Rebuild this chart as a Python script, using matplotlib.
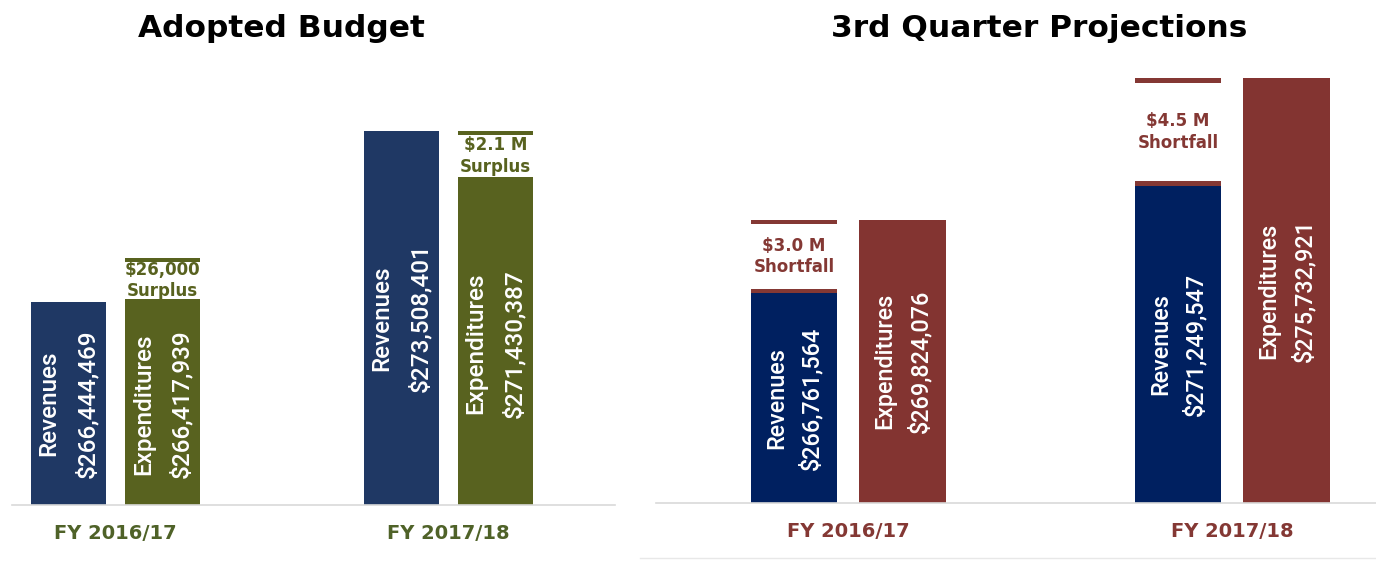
import numpy as np
import matplotlib.pyplot as plt
from matplotlib.lines import Line2D

# values in dollars
years = ["FY 2016/17", "FY 2017/18"]

adopted_rev = [266444469, 273508401]
adopted_exp = [266417939, 271430387]
adopted_gap = ["$26,000\nSurplus", "$2.1 M\nSurplus"]

q3_rev = [266761564, 271249547]
q3_exp = [269824076, 275732921]
q3_gap = ["$3.0 M\nShortfall", "$4.5 M\nShortfall"]

W = 0.226       # bar width
OFF = 0.1415    # bar offset from group centre
TH = 0.18       # thickness of the gap brackets (millions)
MIN_GAP = 1.85  # smallest drawn bracket height (millions)

fig = plt.figure(figsize=(13.76, 5.81), dpi=100)


def money(v):
    return "${:,}".format(v)


def panel(rect, xlim, ylim, rev, exp, gaps, c_rev, c_exp, c_mark, c_lab,
          fs, ls, surplus):
    ax = fig.add_axes(rect)
    x = np.arange(len(years))
    rev_m = np.array(rev) / 1e6
    exp_m = np.array(exp) / 1e6
    ax.bar(x - OFF, rev_m, W, color=c_rev)
    ax.bar(x + OFF, exp_m, W, color=c_exp)

    for i in range(len(years)):
        ax.text(x[i] - OFF, (ylim[0] + rev_m[i]) / 2, "Revenues\n" + money(rev[i]),
                rotation=90, ha="center", va="center", color="white",
                fontsize=fs, linespacing=ls, family="Roboto", fontweight="medium")
        ax.text(x[i] + OFF, (ylim[0] + exp_m[i]) / 2, "Expenditures\n" + money(exp[i]),
                rotation=90, ha="center", va="center", color="white",
                fontsize=fs, linespacing=ls, family="Roboto", fontweight="medium")

        # bracket showing the surplus / shortfall
        if surplus:
            xm = x[i] + OFF
            lo = exp_m[i]
            hi = max(rev_m[i], lo + MIN_GAP)
        else:
            xm = x[i] - OFF
            lo = rev_m[i]
            hi = exp_m[i]
        ax.bar(xm, TH, W, bottom=hi - TH, color=c_mark)
        ax.bar(xm, TH, W, bottom=lo, color=c_mark)
        ax.text(xm, (hi + lo) / 2, gaps[i], ha="center", va="center",
                color=c_mark, fontsize=12, fontweight="bold", linespacing=1.25)

    ax.set_xlim(*xlim)
    ax.set_ylim(*ylim)
    ax.set_yticks([])
    ax.set_xticks(x, years)
    ax.tick_params(axis="x", length=0, pad=14, labelsize=14, labelcolor=c_lab)
    for lbl in ax.get_xticklabels():
        lbl.set_fontweight("bold")
    for s in ["left", "right", "top"]:
        ax.spines[s].set_visible(False)
    ax.spines["bottom"].set_color("#D9D9D9")
    ax.spines["bottom"].set_linewidth(1.2)
    ax.patch.set_alpha(0)
    return ax


panel([12 / 1376, 76 / 581, 603 / 1376, 445 / 581], (-0.311, 1.501), (258.085, 276.436),
      adopted_rev, adopted_exp, adopted_gap,
      "#1F3864", "#58621F", "#58621F", "#4F6228", 17.5, 1.8, True)

panel([656 / 1376, 78.3 / 581, 720 / 1376, 442.7 / 581], (-0.501, 1.374), (258.035, 276.496),
      q3_rev, q3_exp, q3_gap,
      "#002060", "#833431", "#843834", "#843834", 16.8, 1.55, False)

fig.text(281.5 / 1376, 1 - 37 / 581, "Adopted Budget", ha="center", va="baseline",
         fontsize=22.5, fontweight="bold", color="black")
fig.text(1039 / 1376, 1 - 37 / 581, "3rd Quarter Projections", ha="center", va="baseline",
         fontsize=22.5, fontweight="bold", color="black")

# faint frame line under the right chart
fig.add_artist(Line2D([640 / 1376, 1], [1 - 558 / 581, 1 - 558 / 581],
                      color="#E8E8E8", lw=1))

fig.savefig("out.png", dpi=100)
